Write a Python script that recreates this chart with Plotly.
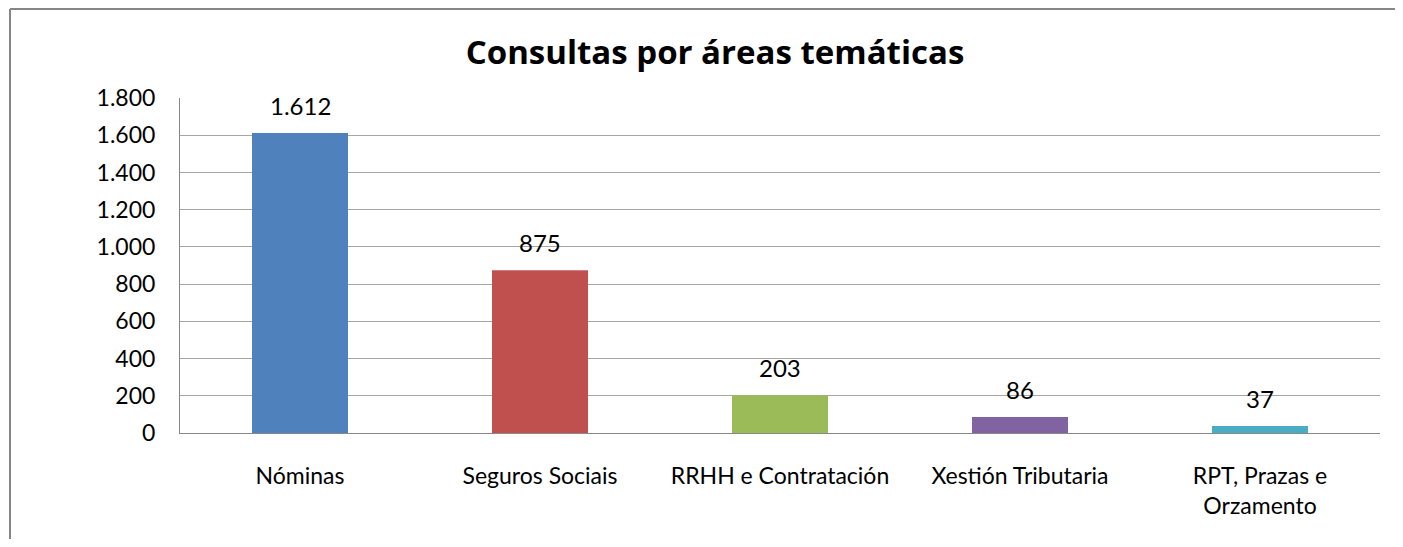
import plotly.graph_objects as go

categories = ["Nóminas", "Seguros Sociais", "RRHH e Contratación", "Xestión Tributaria", "RPT, Prazas e<br>Orzamento"]
values = [1612, 875, 203, 86, 37]
colors = ["#4F81BD", "#C0504D", "#9BBB59", "#8064A2", "#4BACC6"]
y_ticks = [0, 200, 400, 600, 800, 1000, 1200, 1400, 1600, 1800]

FONT = "Lato"
OFF = 8  # page body margin
W, H = 1403 - 2 * OFF, 547 - 2 * OFF
L, R, T, B = 180 - OFF, 1403 - OFF - 1380, 98 - OFF, 547 - OFF - 433

fig = go.Figure()
fig.add_trace(go.Bar(
    x=categories, y=values, marker=dict(color=colors, line=dict(width=0)),
    width=0.4, showlegend=False, hoverinfo="x+y",
))

for c, v in zip(categories, values):
    fig.add_annotation(
        x=c, y=v, text=f"{v:,}".replace(",", "."), showarrow=False,
        yanchor="bottom", yshift=11, font=dict(family=FONT, size=24, color="#000000"),
    )

pw = W - L - R
ph = H - T - B
# chart frame (top and left edges visible)
fy = (H - B - 1) / ph
fx = (2 - L) / pw
fig.add_shape(type="line", xref="paper", yref="paper",
              x0=fx, x1=(W + 5 - L) / pw, y0=fy, y1=fy,
              line=dict(color="#868686", width=2))
fig.add_shape(type="line", xref="paper", yref="paper",
              x0=fx, x1=fx, y0=fy, y1=-(B + 10) / ph,
              line=dict(color="#868686", width=2))

fig.update_layout(
    width=W, height=H,
    margin=dict(l=L, r=R, t=T, b=B, pad=0),
    paper_bgcolor="white", plot_bgcolor="white",
    separators=",.",
    title=dict(text="<b>Consultas por áreas temáticas</b>", x=(715 - OFF) / W, xanchor="center",
               y=1 - (52 - OFF) / H, yanchor="middle",
               font=dict(family="Open Sans", size=33, color="#000000")),
    font=dict(family=FONT, size=23, color="#000000"),
    bargap=0.6,
)
fig.update_yaxes(
    range=[0, 1800], tickvals=y_ticks, separatethousands=True, tickformat=",d",
    showgrid=True, gridcolor="#A6A6A6", gridwidth=1,
    showline=True, linecolor="#888888", linewidth=1,
    ticks="", ticklabelstandoff=19, zeroline=False,
    tickfont=dict(family=FONT, size=23, color="#000000"),
)
fig.update_xaxes(
    showline=True, linecolor="#888888", linewidth=1, ticks="",
    ticklabelstandoff=22, tickfont=dict(family=FONT, size=23, color="#000000"),
)

fig.write_html("out.html", config={"displayModeBar": False})
